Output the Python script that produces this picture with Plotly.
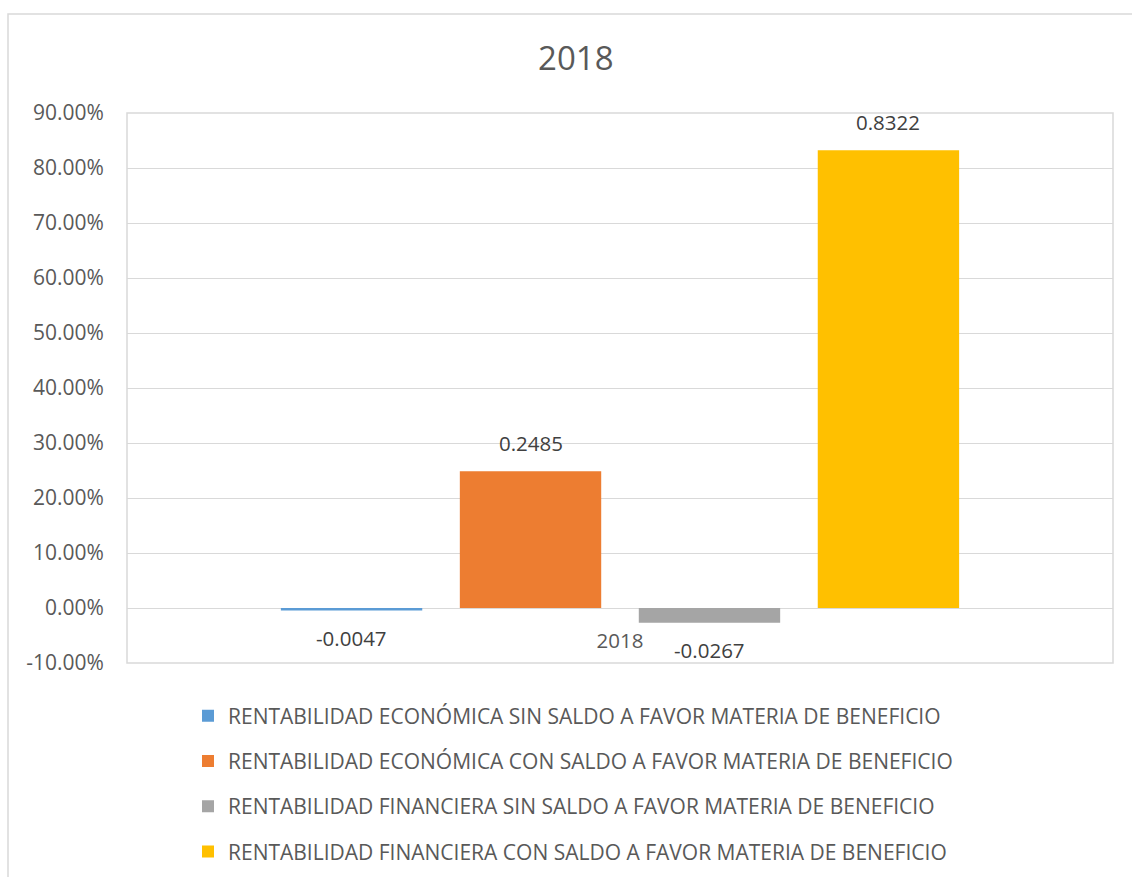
import plotly.graph_objects as go

categories = ["2018"]
series_names = [
    "RENTABILIDAD ECONÓMICA SIN SALDO A FAVOR MATERIA DE BENEFICIO",
    "RENTABILIDAD ECONÓMICA CON SALDO A FAVOR MATERIA DE BENEFICIO",
    "RENTABILIDAD FINANCIERA SIN SALDO A FAVOR MATERIA DE BENEFICIO",
    "RENTABILIDAD FINANCIERA CON SALDO A FAVOR MATERIA DE BENEFICIO",
]
series_values = [[-0.0047], [0.2485], [-0.0267], [0.8322]]
series_colors = ["#5B9BD5", "#ED7D31", "#A5A5A5", "#FFC000"]
y_ticks = [-0.1, 0.0, 0.1, 0.2, 0.3, 0.4, 0.5, 0.6, 0.7, 0.8, 0.9]
y_tick_labels = ["-10.00%", "0.00%", "10.00%", "20.00%", "30.00%", "40.00%",
                 "50.00%", "60.00%", "70.00%", "80.00%", "90.00%"]

FONT = "Open Sans"
W, H = 1132, 877
PL, PR, PT, PB = 127, 1113, 113, 663   # plot area in pixels
BARGAP = 0.274
BARGROUPGAP = 0.21
n_series = len(series_names)

fig = go.Figure()
for i, (name, vals, col) in enumerate(zip(series_names, series_values, series_colors)):
    fig.add_trace(go.Bar(
        x=categories, y=vals, name=name, marker=dict(color=col, line=dict(width=0)),
        legendgroup=f"g{i}", hoverinfo="name+y",
    ))
    slot = (1 - BARGAP) / n_series
    for ci, v in enumerate(vals):
        fig.add_annotation(
            x=ci + (i - (n_series - 1) / 2) * slot, y=v, xref="x", yref="y",
            text=f"{v:.4f}", showarrow=False,
            yanchor="top" if v < 0 else "bottom",
            yshift=-11 if v < 0 else 12,
            font=dict(family=FONT, size=20.5, color="#404040"),
        )

fig.update_layout(
    width=W, height=H,
    paper_bgcolor="white", plot_bgcolor="white",
    margin=dict(l=0, r=0, t=0, b=0, pad=0),
    barmode="group", bargap=BARGAP, bargroupgap=BARGROUPGAP,
    title=dict(text="2018", x=0.5087, xanchor="center", y=1 - 58 / H, yanchor="middle",
               font=dict(family=FONT, size=33, color="#595959")),
    font=dict(family=FONT, color="#595959"),
    showlegend=True,
    legend=dict(orientation="v", x=188 / W, xanchor="left",
                y=1 - 695.5 / H, yanchor="top",
                font=dict(family=FONT, size=21, color="#595959"),
                tracegroupgap=15, itemsizing="constant", bgcolor="rgba(0,0,0,0)"),
)
fig.update_xaxes(
    domain=[PL / W, PR / W],
    type="category", anchor="free", position=(H - 608) / H, showline=False, showgrid=False,
    range=[-0.5, len(categories) - 0.5], automargin=False,
    ticks="outside", ticklen=14, tickcolor="rgba(0,0,0,0)",
    tickfont=dict(family=FONT, size=20.5, color="#595959"),
)
fig.update_yaxes(
    domain=[(H - PB) / H, (H - PT) / H], automargin=False,
    range=[-0.1, 0.9], tickvals=y_ticks, ticktext=y_tick_labels,
    showgrid=True, gridcolor="#D9D9D9", gridwidth=1,
    zeroline=True, zerolinecolor="#D9D9D9", zerolinewidth=1,
    showline=False, ticks="outside", ticklen=18, tickcolor="rgba(0,0,0,0)",
    tickfont=dict(family=FONT, size=21, color="#595959"),
)
# plot area border
fig.add_shape(type="rect", xref="x domain", yref="y domain", x0=0, x1=1, y0=0, y1=1,
              line=dict(color="#D9D9D9", width=1.5), layer="below")
# chart area border
fig.add_shape(type="rect", xref="paper", yref="paper",
              x0=8 / W, x1=1.02, y0=-0.02, y1=1 - 14 / H,
              line=dict(color="#D9D9D9", width=1.5), layer="below")

fig.write_html("out.html", config={"displayModeBar": False},
               post_script="document.body.style.margin='0px';")
